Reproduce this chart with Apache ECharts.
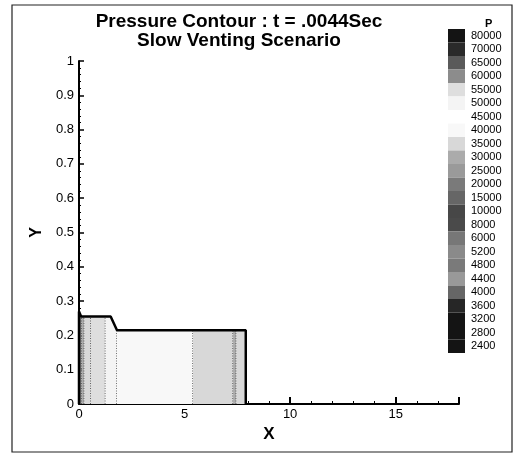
<!DOCTYPE html>
<html>
<head>
<meta charset="utf-8">
<style>
  html, body { margin: 0; padding: 0; background: #fff; }
  #chart { width: 518px; height: 456px; }
</style>
<script src="https://cdn.jsdelivr.net/npm/echarts@6/dist/echarts.min.js"></script>
</head>
<body>
<div id="chart"></div>
<script>
// legend levels, top to bottom
var levels = [80000, 70000, 65000, 60000, 55000, 50000, 45000, 40000, 35000, 30000, 25000, 20000,
  15000, 10000, 8000, 6000, 5200, 4800, 4400, 4000, 3600, 3200, 2800, 2400]
var levelColors = ['#141414', '#2a2a2a', '#5a5a5a', '#8c8c8c', '#dedede', '#f4f4f4', '#ffffff', '#f8f8f8',
  '#d8d8d8', '#ababab', '#9a9a9a', '#7a7a7a', '#666666', '#474747', '#4a4a4a', '#777777', '#8a8a8a',
  '#7a7a7a', '#999999', '#666666', '#262626', '#141414', '#141414', '#141414']

// contour bands along x : start, end, pressure
var bandStart = [0, 0.12, 0.25, 0.56, 1.25, 1.8, 5.4, 7.3, 7.45]
var bandEnd = [0.12, 0.25, 0.56, 1.25, 1.8, 5.4, 7.3, 7.45, 7.9]
var bandP = [20000, 30000, 35000, 55000, 50000, 40000, 35000, 30000, 35000]

// top wall of the domain
var wallX = [0, 0.1, 1.5, 1.8, 7.9]
var wallY = [0.27, 0.255, 0.255, 0.215, 0.215]

function wallAt (x) {
  for (var i = 1; i < wallX.length; i++) {
    if (x <= wallX[i]) {
      var t = (x - wallX[i - 1]) / (wallX[i] - wallX[i - 1])
      return wallY[i - 1] + t * (wallY[i] - wallY[i - 1])
    }
  }
  return wallY[wallY.length - 1]
}

var bandData = bandStart.map(function (s, i) { return [s, bandEnd[i], bandP[i]] })

var outline = [[wallX[0], 0]]
wallX.forEach(function (x, i) { outline.push([x, wallY[i]]) })
outline.push([wallX[wallX.length - 1], 0])

// visualMap pieces, low to high
var pieces = []
for (var i = levels.length - 1; i >= 0; i--) {
  var p = { gte: levels[i], label: String(levels[i]), color: levelColors[i] }
  if (i > 0) p.lt = levels[i - 1]
  pieces.push(p)
}

function renderBand (params, api) {
  var x0 = api.value(0)
  var x1 = api.value(1)
  var xs = [x0]
  wallX.forEach(function (x) { if (x > x0 && x < x1) xs.push(x) })
  xs.push(x1)
  var pts = [api.coord([x0, 0])]
  xs.forEach(function (x) { pts.push(api.coord([x, wallAt(x)])) })
  pts.push(api.coord([x1, 0]))
  var b = api.coord([x1, 0])
  var t = api.coord([x1, wallAt(x1)])
  return {
    type: 'group',
    children: [
      { type: 'polygon', shape: { points: pts }, style: { fill: api.visual('color') } },
      { type: 'line', shape: { x1: b[0], y1: b[1], x2: t[0], y2: t[1] },
        style: { stroke: '#222', lineWidth: 1.2, lineDash: [1, 1.5] } }
    ]
  }
}

var chart = echarts.init(document.getElementById('chart'))
var option = {
  animation: false,
  backgroundColor: '#fff',
  textStyle: { fontFamily: 'Liberation Sans, Arial, sans-serif' },
  title: {
    text: 'Pressure Contour : t = .0044Sec\nSlow Venting Scenario',
    left: 234,
    top: 7,
    textAlign: 'center',
    textStyle: { fontSize: 19, fontWeight: 'bold', color: '#000', lineHeight: 19 }
  },
  grid: { left: 79, right: 59, top: 61, bottom: 52 },
  xAxis: {
    type: 'value',
    min: 0,
    max: 18,
    interval: 5,
    name: 'X',
    nameLocation: 'middle',
    nameGap: 11,
    nameTextStyle: { fontSize: 17, fontWeight: 'bold', color: '#000' },
    axisLine: { lineStyle: { color: '#000', width: 2 } },
    axisTick: { inside: true, length: 7, lineStyle: { color: '#000', width: 2 } },
    minorTick: { show: true, splitNumber: 5, length: 3, lineStyle: { color: '#000', width: 1 } },
    axisLabel: { fontSize: 13, color: '#000', margin: 4, showMaxLabel: false },
    splitLine: { show: false }
  },
  yAxis: {
    type: 'value',
    min: 0,
    max: 1,
    interval: 0.1,
    name: 'Y',
    nameLocation: 'middle',
    nameGap: 31,
    nameRotate: 90,
    nameTextStyle: { fontSize: 16, fontWeight: 'bold', color: '#000' },
    axisLine: { lineStyle: { color: '#000', width: 2 } },
    axisTick: { inside: true, length: 5, lineStyle: { color: '#000', width: 1.5 } },
    minorTick: { show: true, splitNumber: 5, length: 2, lineStyle: { color: '#000', width: 1 } },
    axisLabel: { fontSize: 13, color: '#000', margin: 5 },
    splitLine: { show: false }
  },
  visualMap: {
    type: 'piecewise',
    seriesIndex: 0,
    dimension: 2,
    pieces: pieces,
    orient: 'vertical',
    align: 'left',
    left: 448,
    top: 29,
    padding: 0,
    itemWidth: 17,
    itemHeight: 13.5,
    itemGap: 0,
    itemSymbol: 'rect',
    textGap: 6,
    selectedMode: false,
    textStyle: { fontSize: 11, color: '#000' }
  },
  graphic: [
    { type: 'rect', silent: true, shape: { x: 12, y: 5, width: 500, height: 447 },
      style: { fill: 'none', stroke: '#222', lineWidth: 1.2 } },
    { type: 'text', left: 485, top: 18, silent: true,
      style: { text: 'P', fontSize: 11, fontWeight: 'bold', fill: '#000' } }
  ],
  series: [
    {
      type: 'custom',
      renderItem: renderBand,
      encode: { x: [0, 1] },
      data: bandData,
      clip: true,
      z: 1
    },
    {
      type: 'line',
      data: outline,
      showSymbol: false,
      lineStyle: { color: '#000', width: 2.5 },
      z: 3
    }
  ]
}
chart.setOption(option)
</script>
</body>
</html>
